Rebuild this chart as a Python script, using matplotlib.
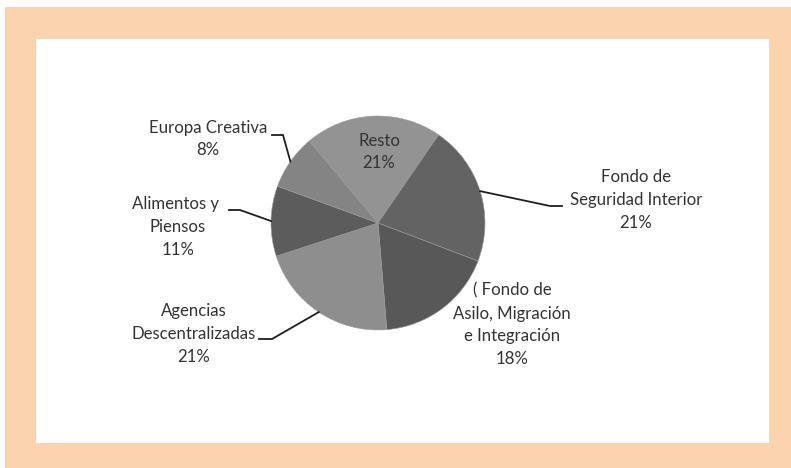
import matplotlib
matplotlib.use("Agg")
import matplotlib.pyplot as plt
import numpy as np
from matplotlib.patches import Rectangle

plt.rcParams['font.family'] = ['Lato', 'DejaVu Sans']

# Slices, clockwise from the top-left boundary
labels = ["Resto", "Fondo de\nSeguridad Interior", "( Fondo de\nAsilo, Migración\ne Integración",
          "Agencias\nDescentralizadas", "Alimentos y \nPiensos", "Europa Creativa"]
shares = [20.7, 21.2, 17.9, 21.3, 10.6, 8.3]
colors = ["#939393", "#636363", "#585858", "#8e8e8e", "#5c5c5c", "#848484"]

W, H = 791, 468
CX, CY, R = 378, 223, 107  # pie centre and radius, pixels


def to_data(x, y):
    return (x - CX) / R, (CY - y) / R


fig = plt.figure(figsize=(W / 100, H / 100), dpi=100)
fig.patch.set_facecolor("white")
fig.add_artist(Rectangle((5 / W, 0), 1 - 5 / W, 1 - 7 / H, transform=fig.transFigure,
                         facecolor="#fbd4af", edgecolor="none", zorder=0))
fig.add_artist(Rectangle((36 / W, 1 - 443 / H), (769 - 36) / W, (443 - 39) / H,
                         transform=fig.transFigure, facecolor="white", edgecolor="none", zorder=0))

ax = fig.add_axes([(CX - R) / W, (H - CY - R) / H, 2 * R / W, 2 * R / H])
ax.set_facecolor("none")
wedges, _ = ax.pie(shares, colors=colors, startangle=130, counterclock=False,
                   wedgeprops=dict(linewidth=0.4, edgecolor="#9a9a9a"))
ax.set_xlim(-1, 1)
ax.set_ylim(-1, 1)
ax.set_aspect("equal")
ax.axis("off")

# label layout: text centre (px), elbow (px), line end (px) or None
layout = [
    ((379, 152), None, None),
    ((636, 200), (550, 206), (562, 206)),
    ((512, 325), None, None),
    ((194, 334), (272, 339), (259, 339)),
    ((178, 227), (240, 210), (229, 210)),
    ((208, 139), (283, 135), (272, 135)),
]

txt_kw = dict(ha="center", va="center", fontsize=12.1, color="#333333",
              linespacing=1.52, multialignment="center")
for w, lab, val, (pos, elbow, end) in zip(wedges, labels, shares, layout):
    tx, ty = to_data(*pos)
    ax.text(tx, ty, f"{lab}\n{round(val):d}%", clip_on=False, **txt_kw)
    if elbow is not None:
        mid = np.deg2rad((w.theta1 + w.theta2) / 2)
        ex, ey = to_data(*elbow)
        nx, ny = to_data(*end)
        ax.plot([np.cos(mid), ex, nx], [np.sin(mid), ey, ny], color="#1e1e1e",
                linewidth=1.3, clip_on=False, solid_joinstyle="miter")

fig.savefig("out.png", dpi=100, facecolor=fig.get_facecolor())
